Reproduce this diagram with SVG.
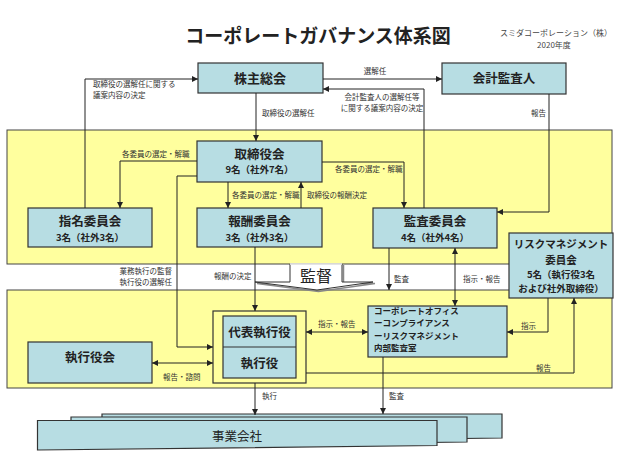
<svg xmlns="http://www.w3.org/2000/svg" width="620" height="465" viewBox="0 0 620 465">
<defs>
<style>
text{font-family:"Noto Sans CJK JP","Noto Sans CJK SC",sans-serif;fill:#222}
.box{fill:#b7dde3;stroke:#333;stroke-width:1.2}
.yel{fill:#ffff9e;stroke:#444;stroke-width:1}
.t{font-size:12.5px;font-weight:bold;text-anchor:middle}
.s{font-size:9.5px;font-weight:bold;text-anchor:middle}
.l{font-size:7.5px;fill:#333}
.c{fill:none;stroke:#222;stroke-width:1}
</style>
<marker id="a" viewBox="0 0 8 8" refX="8" refY="4" markerWidth="6" markerHeight="6" markerUnits="userSpaceOnUse" orient="auto-start-reverse">
<path d="M0,0 L8,4 L0,8 Z" fill="#222"/>
</marker>
</defs>
<rect width="620" height="465" fill="#fff"/>
<g id="title">
<text x="318" y="43" style="font-size:19px;font-weight:bold;text-anchor:middle">コーポレートガバナンス体系図</text>
<text x="556" y="36" style="font-size:8px;text-anchor:middle;fill:#444">スミダコーポレーション（株）</text>
<text x="554" y="47.8" style="font-size:8px;text-anchor:middle;fill:#444">2020年度</text>
</g>
<g id="band-supervision"><rect class="yel" x="7" y="130" width="605" height="134"/></g>
<g id="band-execution"><rect class="yel" x="7" y="290" width="605" height="98"/></g>
<g id="kantoku">
<path d="M291.5,265 V283.5 H257 L318.5,291.5 L375,283.5 H343.5 V265" fill="none" stroke="#888" stroke-width="1.5"/>
<path d="M290,264 V282 H255 L317,290 L373,282 H342 V264 Z" fill="#fff" stroke="#333" stroke-width="1"/>
<line x1="290" y1="264" x2="342" y2="264" stroke="#fff" stroke-width="1.5"/>
<text x="316" y="282" style="font-size:16px;text-anchor:middle">監督</text>
</g>
<g id="kabunushi"><rect class="box" x="198" y="63" width="125" height="30"/><text class="t" x="260" y="83" style="font-size:13px">株主総会</text></g>
<g id="kaikei"><rect class="box" x="442" y="63" width="124" height="31"/><text class="t" x="504" y="83">会計監査人</text></g>
<g id="torishimari"><rect class="box" x="197" y="141" width="125" height="41"/><text class="t" x="259.5" y="158.5">取締役会</text><text class="s" x="259.5" y="173.3">9名（社外7名）</text></g>
<g id="shimei"><rect class="box" x="28" y="208" width="124" height="39"/><text class="t" x="90" y="225.8">指名委員会</text><text class="s" x="90" y="240.7">3名（社外3名）</text></g>
<g id="houshu"><rect class="box" x="197" y="208" width="125" height="39"/><text class="t" x="259.5" y="225.8">報酬委員会</text><text class="s" x="259.5" y="240.7">3名（社外3名）</text></g>
<g id="kansa"><rect class="box" x="373" y="208" width="124" height="40"/><text class="t" x="435" y="226">監査委員会</text><text class="s" x="435" y="240.9">4名（社外4名）</text></g>
<g id="risk"><rect class="box" x="509" y="233" width="104" height="65"/>
<text class="t" x="561" y="248.2" style="font-size:10.5px">リスクマネジメント</text>
<text class="t" x="561" y="263.5" style="font-size:10.5px">委員会</text>
<text class="s" x="561" y="277.6">5名（執行役3名</text>
<text class="s" x="561" y="291.5">および社外取締役）</text></g>
<g id="daihyo"><rect class="yel" x="213" y="311" width="93" height="72" style="stroke:#333;stroke-width:1.2"/>
<rect class="box" x="223" y="316" width="73" height="62"/><line x1="223" y1="347" x2="296" y2="347" stroke="#333" stroke-width="1.2"/>
<text class="t" x="259.5" y="337">代表執行役</text><text class="t" x="259.5" y="368">執行役</text></g>
<g id="shikkoyakukai"><rect class="box" x="28" y="342" width="124" height="41"/><text class="t" x="90" y="362">執行役会</text></g>
<g id="corporate"><rect class="box" x="368" y="306" width="139" height="51"/>
<text x="374" y="314" style="font-size:8.5px;font-weight:bold">コーポレートオフィス</text>
<text x="374" y="326.4" style="font-size:8.5px;font-weight:bold">ーコンプライアンス</text>
<text x="374" y="338.8" style="font-size:8.5px;font-weight:bold">ーリスクマネジメント</text>
<text x="374" y="351.2" style="font-size:8.5px;font-weight:bold">内部監査室</text></g>
<g id="jigyo">
<path class="box" d="M102,414 H502 V438 L102,443 Z"/>
<path class="box" d="M71,417 H467 V442 L71,447 Z"/>
<path class="box" d="M37.5,420.5 H437 V445.5 L37.5,450 Z"/>
<text x="237" y="440.5" style="font-size:12.5px;text-anchor:middle">事業会社</text>
</g>
<g id="connectors">
<path class="c" d="M323,79 H442" marker-end="url(#a)"/>
<path class="c" d="M424,208 V89 H323" marker-end="url(#a)"/>
<path class="c" d="M256,93 V141" marker-end="url(#a)"/>
<path class="c" d="M85,208 V79 H198" marker-end="url(#a)"/>
<path class="c" d="M549,94 V212 H497" marker-end="url(#a)"/>
<path class="c" d="M197,161 H120 V208" marker-end="url(#a)"/>
<path class="c" d="M228,182 V208" marker-end="url(#a)"/>
<path class="c" d="M301,208 V182" marker-end="url(#a)"/>
<path class="c" d="M322,162 H404 V208" marker-end="url(#a)"/>
<path class="c" d="M197,176 H177 V347 H213" marker-end="url(#a)"/>
<path class="c" d="M255,247 V311" marker-end="url(#a)"/>
<path class="c" d="M389,248 V290" marker-end="url(#a)"/>
<path class="c" d="M455,306 V248" marker-start="url(#a)" marker-end="url(#a)"/>
<path class="c" d="M306,332 H368" marker-start="url(#a)" marker-end="url(#a)"/>
<path class="c" d="M548,298 V332 H507" marker-end="url(#a)"/>
<path class="c" d="M306,373 H574 V298" marker-end="url(#a)"/>
<path class="c" d="M152,363 H213" marker-start="url(#a)" marker-end="url(#a)"/>
<path class="c" d="M255,383 V415" marker-end="url(#a)"/>
<path class="c" d="M383,357 V414" marker-end="url(#a)"/>
</g>
<g id="labels">
<text class="l" x="375" y="74" text-anchor="middle">選解任</text>
<text class="l" x="382" y="99.5" text-anchor="middle">会計監査人の選解任等</text>
<text class="l" x="382" y="110.5" text-anchor="middle">に関する議案内容の決定</text>
<text class="l" x="262" y="116">取締役の選解任</text>
<text class="l" x="93" y="87">取締役の選解任に関する</text>
<text class="l" x="93" y="98">議案内容の決定</text>
<text class="l" x="546" y="116" text-anchor="end">報告</text>
<text class="l" x="122" y="157">各委員の選定・解職</text>
<text class="l" x="232" y="198">各委員の選定・解職</text>
<text class="l" x="307" y="198">取締役の報酬決定</text>
<text class="l" x="335" y="172">各委員の選定・解職</text>
<text class="l" x="172" y="274" text-anchor="end">業務執行の監督</text>
<text class="l" x="172" y="285" text-anchor="end">執行役の選解任</text>
<text class="l" x="214" y="279">報酬の決定</text>
<text class="l" x="394" y="282">監査</text>
<text class="l" x="463" y="282">指示・報告</text>
<text class="l" x="318" y="327">指示・報告</text>
<text class="l" x="521" y="329">指示</text>
<text class="l" x="536" y="371">報告</text>
<text class="l" x="163" y="380">報告・諮問</text>
<text class="l" x="262" y="399">執行</text>
<text class="l" x="389" y="399">監査</text>
</g>
</svg>
